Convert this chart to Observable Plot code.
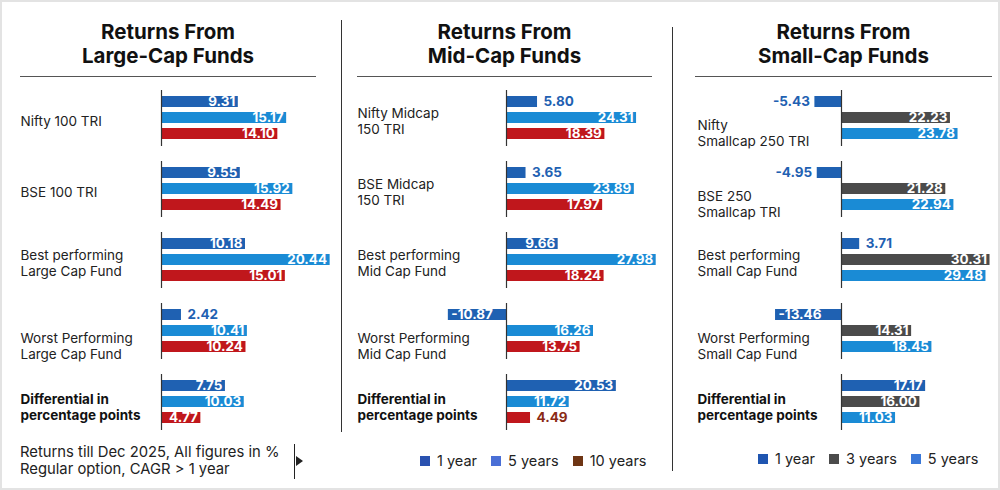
<!DOCTYPE html>
<html><head><meta charset="utf-8">
<script src="https://cdn.jsdelivr.net/npm/d3@7"></script>
<script src="https://cdn.jsdelivr.net/npm/@observablehq/plot@0.6"></script>
<style>
html,body{margin:0;padding:0;background:#fff;}
#root{position:relative;width:1000px;height:490px;overflow:hidden;font-family:Inter,"Noto Sans",sans-serif;color:#222;}
.abs{position:absolute;}
.frame{left:0;top:0;width:996px;height:486px;border:2px solid #e3e3e3;}
.title{font-weight:700;font-size:20.5px;line-height:24px;text-align:center;color:#111;}
.rule{height:0;border-top:1.5px solid #555;}
.vsep{width:0;border-left:1.5px solid #333;}
.legend{display:flex;align-items:center;font-size:14.5px;color:#222;white-space:nowrap;}
.legend .sw{display:inline-block;width:10px;height:10px;margin-right:7px;}
.legend .it{display:flex;align-items:center;margin-right:14px;}
.foot{font-size:14.8px;line-height:17px;color:#222;white-space:nowrap;}
</style></head>
<body><div id="root"></div>
<script>
// ---------- data ----------
const largeGroups = ["Nifty 100 TRI", "BSE 100 TRI", "Best performing\nLarge Cap Fund", "Worst Performing\nLarge Cap Fund", "Differential in\npercentage points"];
const large1y  = [9.31, 9.55, 10.18, 2.42, 7.75];
const large5y  = [15.17, 15.92, 20.44, 10.41, 10.03];
const large10y = [14.10, 14.49, 15.01, 10.24, 4.77];

const midGroups = ["Nifty Midcap\n150 TRI", "BSE Midcap\n150 TRI", "Best performing\nMid Cap Fund", "Worst Performing\nMid Cap Fund", "Differential in\npercentage points"];
const mid1y  = [5.80, 3.65, 9.66, -10.87, 20.53];
const mid5y  = [24.31, 23.89, 27.98, 16.26, 11.72];
const mid10y = [18.39, 17.97, 18.24, 13.75, 4.49];

const smallGroups = ["Nifty\nSmallcap 250 TRI", "BSE 250\nSmallcap TRI", "Best performing\nSmall Cap Fund", "Worst Performing\nSmall Cap Fund", "Differential in\npercentage points"];
const small1y = [-5.43, -4.95, 3.71, -13.46, 17.17];
const small3y = [22.23, 21.28, 30.31, 14.31, 16.00];
const small5y = [23.78, 22.94, 29.48, 18.45, 11.03];

const seriesA = ["1 year", "5 years", "10 years"];
const seriesB = ["1 year", "3 years", "5 years"];

const C1 = "#1f61b2", C5 = "#1a8bd5", C10 = "#c0171c", C3 = "#4b4b4b";
const fmt = v => d3.format(".2f")(v).replace("\u2212", "-");

const root = document.getElementById("root");
function el(cls, css, html) {
  const d = document.createElement("div");
  d.className = "abs " + cls;
  Object.assign(d.style, css);
  if (html != null) d.innerHTML = html;
  root.appendChild(d);
  return d;
}

function panel({groups, series, values, colors, labelColors, xDomain, xRange, width, marginLeft, left}) {
  const rows = [];
  groups.forEach((g, i) => series.forEach((s, j) => rows.push({group: g, series: s, value: values[j][i], color: colors[j], lc: labelColors[j]})));
  const k = (xRange[1] - xRange[0]) / (xDomain[1] - xDomain[0]);
  const fits = d => Math.abs(d.value) * k >= 36;
  const common = {x: "value", y: "series", fy: "group", text: d => fmt(d.value), fontWeight: 700, fontSize: 13.5};
  // labels sit lower when a negative bar or the "Worst" row would crowd them
  const lowered = groups.filter((g, i) => values[0][i] < 0 || g.startsWith("Worst"));
  const diff = groups.filter(g => g.startsWith("Differential"));
  const normal = groups.filter(g => !lowered.includes(g) && !diff.includes(g));
  const lab = {fy: d => d, text: d => d, frameAnchor: "left", textAnchor: "start", lineHeight: 1.2, fontSize: 13.5, fill: "#222"};
  const chart = Plot.plot({
    width, height: 360, marginTop: 8, marginBottom: 8, marginLeft, marginRight: 0,
    x: {domain: xDomain, range: xRange, axis: null},
    y: {domain: series, padding: 0.3, axis: null},
    fy: {domain: groups, paddingInner: 0.205, paddingOuter: 0, axis: null},
    color: {type: "identity"},
    style: {fontFamily: "Inter, 'Noto Sans', sans-serif", overflow: "visible", background: "transparent"},
    marks: [
      Plot.barX(rows, {x: "value", y: "series", fy: "group", fill: "color"}),
      Plot.ruleX([0], {stroke: "#333", strokeWidth: 1.2}),
      Plot.text(rows.filter(d => fits(d) && d.value >= 0), {...common, textAnchor: "end", dx: -3, fill: "white"}),
      Plot.text(rows.filter(d => fits(d) && d.value < 0), {...common, textAnchor: "start", dx: 3, fill: "white"}),
      Plot.text(rows.filter(d => !fits(d) && d.value >= 0), {...common, textAnchor: "start", dx: 6, fill: "lc"}),
      Plot.text(rows.filter(d => !fits(d) && d.value < 0), {...common, textAnchor: "end", dx: -5, fill: "lc"}),
      Plot.text(normal, {...lab, dy: 2}),
      Plot.text(lowered, {...lab, dy: 14}),
      Plot.text(diff, {...lab, dy: 4, fontWeight: 700, fill: "#111"})
    ]
  });
  const holder = el("", {left: left + "px", top: "80px"});
  holder.appendChild(chart);
}

// frame
el("frame", {});

// titles and rules
el("title", {left: "20px", top: "20px", width: "296px"}, "Returns From<br>Large-Cap Funds");
el("rule", {left: "20px", top: "76px", width: "296px"});
el("title", {left: "357px", top: "20px", width: "295px"}, "Returns From<br>Mid-Cap Funds");
el("rule", {left: "357px", top: "76px", width: "295px"});
el("title", {left: "695px", top: "20px", width: "297px"}, "Returns From<br>Small-Cap Funds");
el("rule", {left: "695px", top: "76px", width: "297px"});

// separators
el("vsep", {left: "341px", top: "20px", height: "412px"});
el("vsep", {left: "672px", top: "27px", height: "444px"});

panel({groups: largeGroups, series: seriesA, values: [large1y, large5y, large10y], colors: [C1, C5, C10], labelColors: [C1, C5, "#8a2a14"],
  xDomain: [0, 20], xRange: [161, 326], width: 340, marginLeft: 20, left: 0});
panel({groups: midGroups, series: seriesA, values: [mid1y, mid5y, mid10y], colors: [C1, C5, C10], labelColors: [C1, C5, "#8a2a14"],
  xDomain: [-11, 28], xRange: [107.15, 315.8], width: 333, marginLeft: 17, left: 340});
panel({groups: smallGroups, series: seriesB, values: [small1y, small3y, small5y], colors: [C1, C3, C5], labelColors: [C1, C3, C5],
  xDomain: [-14, 31], xRange: [99.4, 319.9], width: 327, marginLeft: 24, left: 673});

// legends
function legend(items, left, top) {
  const d = el("legend", {left: left + "px", top: top + "px"});
  items.forEach(([name, c]) => {
    const it = document.createElement("span");
    it.className = "it";
    it.innerHTML = `<span class="sw" style="background:${c}"></span>${name}`;
    d.appendChild(it);
  });
}
legend([[seriesA[0], "#2a52b0"], [seriesA[1], "#4a6fd6"], [seriesA[2], "#6e3514"]], 420, 452);
legend([[seriesB[0], "#1f55b0"], [seriesB[1], C3], [seriesB[2], "#3a78d8"]], 758, 450);

// footnote
el("foot", {left: "20px", top: "444px"}, "Returns till Dec 2025, All figures in %<br>Regular option, CAGR &gt; 1 year");
el("vsep", {left: "294px", top: "444px", height: "35px", borderLeft: "1.5px solid #222"});
el("", {left: "296px", top: "456px", width: "0", height: "0", borderTop: "5px solid transparent", borderBottom: "5px solid transparent", borderLeft: "7px solid #222"});
</script>
</body></html>
